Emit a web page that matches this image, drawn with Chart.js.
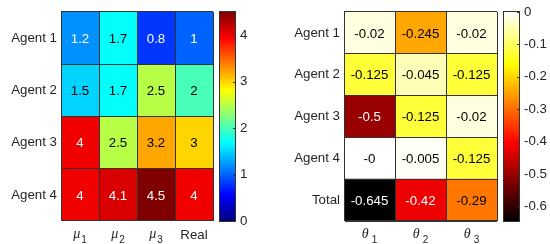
<!DOCTYPE html>
<html>
<head>
<meta charset="utf-8">
<script src="https://cdn.jsdelivr.net/npm/chart.js@4.4.1/dist/chart.umd.min.js"></script>
<style>
  body { margin: 0; background: #fff; }
  #wrap { position: relative; width: 550px; height: 244px; }
  canvas { position: absolute; top: 0; }
</style>
</head>
<body>
<div id="wrap">
  <canvas id="hmLeft" width="216" height="244" style="left:0px;width:216px;height:244px"></canvas>
  <canvas id="cbLeft" width="59" height="244" style="left:216px;width:59px;height:244px"></canvas>
  <canvas id="hmRight" width="230" height="244" style="left:270px;width:230px;height:244px"></canvas>
  <canvas id="cbRight" width="50" height="244" style="left:500px;width:50px;height:244px"></canvas>
</div>
<script>
// ---- data ----
const leftRows = ['Agent 1', 'Agent 2', 'Agent 3', 'Agent 4'];
const leftCols = ['μ_1', 'μ_2', 'μ_3', 'Real'];
const leftValues = [
    [1.2, 1.7, 0.8, 1],
    [1.5, 1.7, 2.5, 2],
    [4, 2.5, 3.2, 3],
    [4, 4.1, 4.5, 4]
];
const leftClim = [0, 4.5];
const leftTicks = [0, 1, 2, 3, 4];

const rightRows = ['Agent 1', 'Agent 2', 'Agent 3', 'Agent 4', 'Total'];
const rightCols = ['θ_1', 'θ_2', 'θ_3'];
const rightValues = [
    [-0.02, -0.245, -0.02],
    [-0.125, -0.045, -0.125],
    [-0.5, -0.125, -0.02],
    [-0, -0.005, -0.125],
    [-0.645, -0.42, -0.29]
];
const rightClim = [-0.645, 0];
const rightTicks = [0, -0.1, -0.2, -0.3, -0.4, -0.5, -0.6];

const FONT = "'Liberation Sans', Arial, sans-serif";
const TXT = '#262626';
const GRID = '#333333';

// colormaps (matlab jet / hot)
const clamp = v => Math.max(0, Math.min(1, v));
function jet(t) {
    return [clamp(1.5 - Math.abs(4 * t - 3)), clamp(1.5 - Math.abs(4 * t - 2)), clamp(1.5 - Math.abs(4 * t - 1))];
}
function hot(t) {
    return [clamp(t / 0.375), clamp((t - 0.375) / 0.375), clamp((t - 0.75) / 0.25)];
}
const rgbStr = c => `rgb(${Math.round(c[0] * 255)},${Math.round(c[1] * 255)},${Math.round(c[2] * 255)})`;
const fmt = v => (Object.is(v, -0) ? '-0' : String(v));

// cell values + custom x labels with subscript
const heatPlugin = {
    id: 'heatText',
    afterDraw(chart, args, opts) {
        const { ctx, scales: { x, y } } = chart;
        ctx.save();
        ctx.textAlign = 'center';
        ctx.textBaseline = 'middle';
        ctx.font = '13.3px ' + FONT;
        opts.values.forEach((row, r) => {
            row.forEach((v, c) => {
                const col = opts.cmap((v - opts.clim[0]) / (opts.clim[1] - opts.clim[0]));
                const lum = 0.299 * col[0] + 0.587 * col[1] + 0.114 * col[2];
                ctx.fillStyle = lum > 0.5 ? '#000' : '#fff';
                ctx.fillText(fmt(v), x.getPixelForValue(c + 0.5), y.getPixelForValue(r) + 1);
            });
        });
        // column labels
        ctx.textBaseline = 'alphabetic';
        ctx.fillStyle = TXT;
        opts.cols.forEach((lab, c) => {
            const cx = x.getPixelForValue(c + 0.5);
            const parts = lab.split('_');
            if (parts.length === 1) {
                ctx.textAlign = 'center';
                ctx.font = '13.3px ' + FONT;
                ctx.fillText(lab, cx, 239);
                return;
            }
            const baseFont = "italic 14px 'Liberation Serif', serif";
            const subFont = '10px ' + FONT;
            ctx.font = baseFont;
            const wb = ctx.measureText(parts[0]).width;
            ctx.font = subFont;
            const ws = ctx.measureText(parts[1]).width;
            const gap = opts.subGap;
            const x0 = cx - (wb + gap + ws) / 2;
            ctx.textAlign = 'left';
            ctx.font = baseFont;
            ctx.fillText(parts[0], x0, 238);
            ctx.font = subFont;
            ctx.fillText(parts[1], x0 + wb + gap, 242.5);
        });
        ctx.restore();
    }
};

function makeHeatmap(id, rows, cols, values, clim, cmap, yWidth, subGap) {
    const datasets = cols.map((c, ci) => ({
        label: c,
        data: rows.map(() => [ci, ci + 1]),
        backgroundColor: values.map(r => rgbStr(cmap((r[ci] - clim[0]) / (clim[1] - clim[0])))),
        borderWidth: 0,
        barPercentage: 1,
        categoryPercentage: 1,
        grouped: false
    }));
    return new Chart(document.getElementById(id), {
        type: 'bar',
        data: { labels: rows, datasets: datasets },
        options: {
            indexAxis: 'y',
            responsive: false,
            animation: false,
            layout: { padding: { top: 11, right: 3, left: 0, bottom: 0 } },
            scales: {
                x: {
                    type: 'linear',
                    min: 0,
                    max: cols.length,
                    ticks: { stepSize: 1, display: false },
                    grid: { color: GRID, drawTicks: false, z: 1 },
                    border: { color: GRID, z: 1 },
                    afterFit: s => { s.height = 23; }
                },
                y: {
                    ticks: { color: TXT, font: { family: FONT, size: 13.3 }, padding: 4 },
                    grid: { color: GRID, drawTicks: false, z: 1 },
                    border: { color: GRID, z: 1 },
                    afterFit: s => { s.width = yWidth; }
                }
            },
            plugins: {
                legend: { display: false },
                tooltip: { enabled: false },
                heatText: { values: values, cols: cols, clim: clim, cmap: cmap, subGap: subGap }
            }
        },
        plugins: [heatPlugin]
    });
}

// colour bar: gradient + inner tick marks
const barPlugin = {
    id: 'cbar',
    beforeDatasetsDraw(chart, args, opts) {
        const { ctx, chartArea: a, scales: { y } } = chart;
        const grad = ctx.createLinearGradient(0, a.bottom, 0, a.top);
        for (let i = 0; i <= 64; i++) grad.addColorStop(i / 64, rgbStr(opts.cmap(i / 64)));
        ctx.save();
        ctx.fillStyle = grad;
        ctx.fillRect(a.left, a.top, a.right - a.left, a.bottom - a.top);
        ctx.strokeStyle = GRID;
        ctx.lineWidth = 1;
        opts.ticks.forEach(t => {
            const py = Math.round(y.getPixelForValue(t)) + 0.5;
            ctx.beginPath();
            ctx.moveTo(a.right - 3, py);
            ctx.lineTo(a.right, py);
            ctx.stroke();
        });
        ctx.strokeRect(a.left + 0.5, a.top - 0.5, a.right - a.left - 1, a.bottom - a.top + 1);
        ctx.restore();
    }
};

function makeColorbar(id, clim, ticks, cmap, padLeft, axisWidth) {
    return new Chart(document.getElementById(id), {
        type: 'bar',
        data: { labels: [''], datasets: [{ data: [null] }] },
        options: {
            responsive: false,
            animation: false,
            layout: { padding: { top: 11, bottom: 23, left: padLeft, right: 0 } },
            scales: {
                x: { display: false },
                y: {
                    position: 'right',
                    min: clim[0],
                    max: clim[1],
                    afterBuildTicks: s => { s.ticks = ticks.map(v => ({ value: v })); },
                    ticks: {
                        color: TXT,
                        font: { family: FONT, size: 13.3 },
                        padding: 4,
                        callback: v => String(Number(v.toFixed(2)))
                    },
                    grid: { display: false, drawTicks: false },
                    border: { display: false },
                    afterFit: s => { s.width = axisWidth; }
                }
            },
            plugins: {
                legend: { display: false },
                tooltip: { enabled: false },
                cbar: { cmap: cmap, ticks: ticks }
            }
        },
        plugins: [barPlugin]
    });
}

makeHeatmap('hmLeft', leftRows, leftCols, leftValues, leftClim, jet, 61, 1);
makeColorbar('cbLeft', leftClim, leftTicks, jet, 3, 39);
makeHeatmap('hmRight', rightRows, rightCols, rightValues, rightClim, hot, 74, 3);
makeColorbar('cbRight', rightClim, rightTicks, hot, 3, 30);
</script>
</body>
</html>
